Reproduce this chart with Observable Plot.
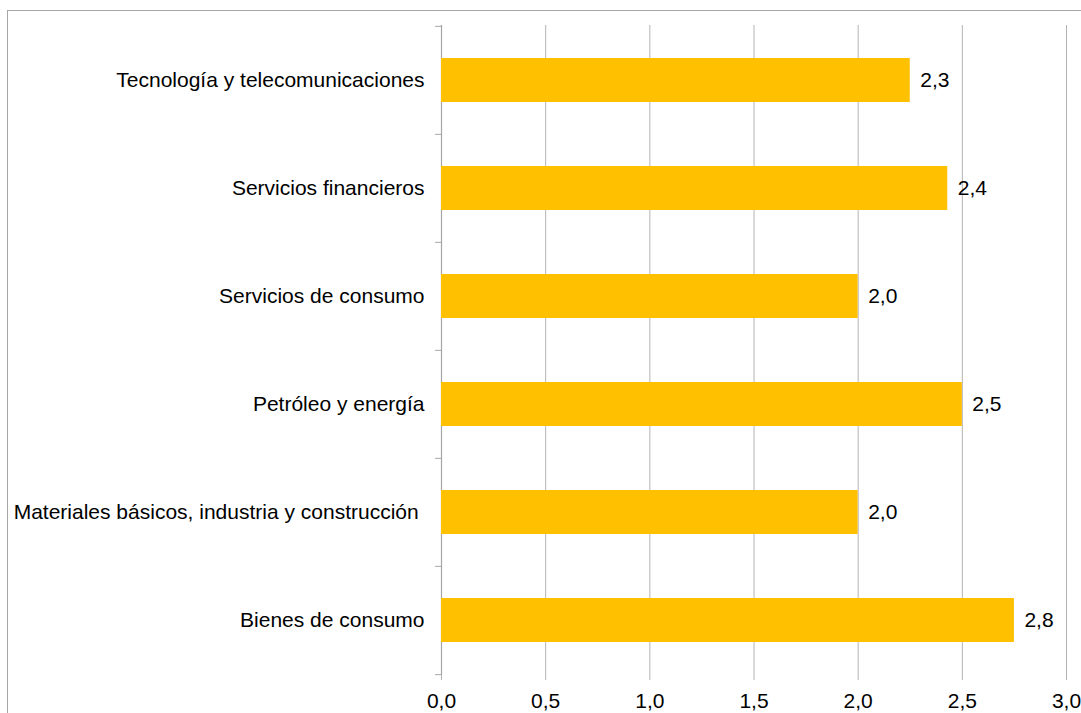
<!DOCTYPE html>
<html><head><meta charset="utf-8">
<script src="https://cdn.jsdelivr.net/npm/d3@7"></script>
<script src="https://cdn.jsdelivr.net/npm/@observablehq/plot@0.6"></script>
<style>
body{margin:0;background:#fff;}
#wrap{position:relative;width:1081px;height:713px;overflow:hidden;}
#frame{position:absolute;left:7px;top:10px;width:1200px;height:800px;border-left:1px solid #a6a6a6;border-top:1px solid #a6a6a6;}
#chart{position:absolute;left:0;top:0;}
</style></head><body>
<div id="wrap"><div id="frame"></div><div id="chart"></div></div>
<script>
const categories = [
  "Tecnología y telecomunicaciones",
  "Servicios financieros",
  "Servicios de consumo",
  "Petróleo y energía",
  "Materiales básicos, industria y construcción\u00a0",
  "Bienes de consumo"
];
const values = [2.25, 2.43, 2.0, 2.5, 2.0, 2.75];
const valueLabels = ["2,3", "2,4", "2,0", "2,5", "2,0", "2,8"];
const xTicks = [0, 0.5, 1, 1.5, 2, 2.5, 3];
const xTickLabels = ["0,0", "0,5", "1,0", "1,5", "2,0", "2,5", "3,0"];

const data = categories.map((c, i) => ({cat: c, value: values[i], label: valueLabels[i]}));

const W = 1081, H = 713, mT = 25, mB = 38, mL = 441, mR = 15;
const step = (H - mT - mB) / categories.length;
const tickLen = 6 / ((W - mL - mR) / 3);

const chart = Plot.plot({
  width: W,
  height: H,
  marginTop: mT,
  marginBottom: mB,
  marginLeft: mL,
  marginRight: mR,
  style: {fontFamily: "'Liberation Sans', Arial, sans-serif", fontSize: "21px", color: "#000", background: "transparent"},
  x: {domain: [0, 3]},
  y: {domain: categories, padding: 0},
  marks: [
    Plot.ruleX(xTicks.slice(1), {stroke: "#b3b3b3", strokeWidth: 1}),
    Plot.ruleX([0], {stroke: "#a6a6a6", strokeWidth: 1.2}),
    Plot.ruleY(categories, {y: d => d, x1: -tickLen, x2: 0, dy: -step / 2, stroke: "#a6a6a6"}),
    Plot.ruleY(categories.slice(-1), {y: d => d, x1: -tickLen, x2: 0, dy: step / 2, stroke: "#a6a6a6"}),
    Plot.barX(data, {x: "value", y: "cat", fill: "#FFC000", insetTop: 32, insetBottom: 32}),
    Plot.text(data, {x: "value", y: "cat", text: "label", dx: 10, textAnchor: "start", fill: "#000", fontSize: 21}),
    Plot.axisX({ticks: xTicks, tickFormat: d => xTickLabels[xTicks.indexOf(d)], tickSize: 5, tickPadding: 13, stroke: "#b3b3b3", fill: "#000", label: null}),
    Plot.axisY({tickSize: 0, tickPadding: 17, fill: "#000", label: null})
  ]
});
document.getElementById("chart").appendChild(chart);
</script>
</body></html>
